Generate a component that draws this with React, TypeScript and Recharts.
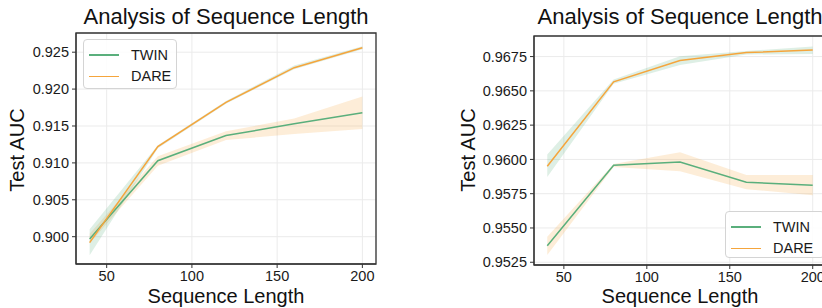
import { ComposedChart, Line, Area, XAxis, YAxis, CartesianGrid, ReferenceArea } from 'recharts'

// Sequence lengths (x)
const seqLens = [40, 80, 120, 160, 200]

// Left panel
const leftTwin = [0.8997, 0.9103, 0.9137, 0.9153, 0.9168]
const leftTwinLo = [0.8991, 0.9096, 0.9131, 0.9139, 0.9146]
const leftTwinHi = [0.9004, 0.9109, 0.9143, 0.9160, 0.9190]
const leftDare = [0.8992, 0.9122, 0.9182, 0.9229, 0.9256]
const leftDareLo = [0.8975, 0.9120, 0.9180, 0.9227, 0.9254]
const leftDareHi = [0.9010, 0.9124, 0.9184, 0.9232, 0.9258]
const leftYTicks = [0.9, 0.905, 0.91, 0.915, 0.92, 0.925]

// Right panel
const rightTwin = [0.95371, 0.95957, 0.95981, 0.95834, 0.95812]
const rightTwinLo = [0.95303, 0.95945, 0.95914, 0.95783, 0.95739]
const rightTwinHi = [0.95436, 0.95966, 0.96052, 0.95887, 0.95887]
const rightDare = [0.9595, 0.96566, 0.96721, 0.96779, 0.96798]
const rightDareLo = [0.95872, 0.96552, 0.96689, 0.96765, 0.96769]
const rightDareHi = [0.96035, 0.96582, 0.96752, 0.96791, 0.96823]
const rightYTicks = [0.9525, 0.955, 0.9575, 0.96, 0.9625, 0.965, 0.9675]

const xTicks = [50, 100, 150, 200]
const seriesNames = ['TWIN', 'DARE']

const TWIN_COLOR = '#5aaf7c'
const DARE_COLOR = '#f5a53c'
const seriesColors = [TWIN_COLOR, DARE_COLOR]
const FONT = '"Liberation Sans", Arial, sans-serif'

const buildRows = (
  twin: number[], twinLo: number[], twinHi: number[],
  dare: number[], dareLo: number[], dareHi: number[]
) =>
  seqLens.map((len, i) => ({
    len,
    twin: twin[i],
    dare: dare[i],
    twinBand: [twinLo[i], twinHi[i]],
    dareBand: [dareLo[i], dareHi[i]],
  }))

const leftRows = buildRows(leftTwin, leftTwinLo, leftTwinHi, leftDare, leftDareLo, leftDareHi)
const rightRows = buildRows(rightTwin, rightTwinLo, rightTwinHi, rightDare, rightDareLo, rightDareHi)

const tickStyle = { fill: '#1a1a1a', fontSize: 14.5, fontFamily: FONT }

const LegendBox = ({ left, top, width, height }: { left: number; top: number; width: number; height: number }) => (
  <div
    style={{
      position: 'absolute',
      left,
      top,
      width,
      height,
      background: 'rgba(255,255,255,0.85)',
      border: '1px solid #d4d4d4',
      borderRadius: 4,
      padding: '4px 0 0 5px',
      fontFamily: FONT,
      fontSize: 14.5,
      color: '#1a1a1a',
      boxSizing: 'border-box',
    }}
  >
    {seriesNames.map((name, i) => (
      <div key={name} style={{ display: 'flex', alignItems: 'center', height: 21.5 }}>
        <span style={{ width: 30, height: 1.5, background: seriesColors[i], marginRight: 12 }} />
        <span>{name}</span>
      </div>
    ))}
  </div>
)

interface PanelProps {
  rows: any[]
  width: number
  margin: { top: number; right: number; left: number; bottom: number }
  yAxisWidth: number
  xAxisHeight: number
  yDomain: [number, number]
  yTicks: number[]
  digits: number
}

function Panel({ rows, width, margin, yAxisWidth, xAxisHeight, yDomain, yTicks, digits }: PanelProps) {
  return (
    <ComposedChart width={width} height={308} data={rows} margin={margin}>
      <CartesianGrid stroke="#ebebeb" strokeWidth={1} />
      <XAxis
        dataKey="len"
        type="number"
        domain={[32, 208]}
        ticks={xTicks}
        allowDataOverflow
        height={xAxisHeight}
        tick={tickStyle}
        tickSize={4}
        tickMargin={3}
        stroke="#333"
      />
      <YAxis
        type="number"
        domain={yDomain}
        ticks={yTicks}
        allowDataOverflow
        width={yAxisWidth}
        tick={tickStyle}
        tickSize={4}
        tickMargin={3}
        stroke="#333"
        tickFormatter={(v: number) => v.toFixed(digits)}
      />
      <Area
        dataKey="twinBand"
        type="linear"
        stroke="none"
        fill={DARE_COLOR}
        fillOpacity={0.2}
        isAnimationActive={false}
        activeDot={false}
      />
      <Area
        dataKey="dareBand"
        type="linear"
        stroke="none"
        fill={TWIN_COLOR}
        fillOpacity={0.2}
        isAnimationActive={false}
        activeDot={false}
      />
      <Line dataKey="twin" name="TWIN" type="linear" stroke={TWIN_COLOR} strokeWidth={1.5} dot={false} isAnimationActive={false} />
      <Line dataKey="dare" name="DARE" type="linear" stroke={DARE_COLOR} strokeWidth={1.5} dot={false} isAnimationActive={false} />
      <ReferenceArea
        x1={32}
        x2={208}
        y1={yDomain[0]}
        y2={yDomain[1]}
        fill="none"
        stroke="#333"
        strokeWidth={1.3}
        ifOverflow="visible"
      />
    </ComposedChart>
  )
}

export default function App() {
  return (
    <div style={{ position: 'absolute', left: 0, top: 0, width: 822, height: 308, overflow: 'hidden', background: '#fff' }}>
      <div style={{ position: 'absolute', left: 0, top: 0 }}>
        <Panel
          rows={leftRows}
          width={411}
          margin={{ top: 33, right: 35, left: 0, bottom: 0 }}
          yAxisWidth={76}
          xAxisHeight={44}
          yDomain={[0.8963, 0.9276]}
          yTicks={leftYTicks}
          digits={3}
        />
      </div>
      <div style={{ position: 'absolute', left: 411, top: 0 }}>
        <Panel
          rows={rightRows}
          width={420}
          margin={{ top: 36, right: 5, left: 0, bottom: 0 }}
          yAxisWidth={123}
          xAxisHeight={43}
          yDomain={[0.9523, 0.969]}
          yTicks={rightYTicks}
          digits={4}
        />
      </div>
      <LegendBox left={83} top={39} width={94} height={50} />
      <LegendBox left={725} top={211} width={100} height={47} />
      <svg width={822} height={308} style={{ position: 'absolute', left: 0, top: 0, pointerEvents: 'none' }}>
        <g fontFamily={FONT} fill="#111">
          <text x={226} y={23.5} fontSize={22} textAnchor="middle">Analysis of Sequence Length</text>
          <text x={680} y={23.5} fontSize={22} textAnchor="middle">Analysis of Sequence Length</text>
          <text x={226} y={303} fontSize={20} textAnchor="middle">Sequence Length</text>
          <text x={680} y={303} fontSize={20} textAnchor="middle">Sequence Length</text>
          <text x={24} y={150} fontSize={20} textAnchor="middle" transform="rotate(-90 24 150)">Test AUC</text>
          <text x={475} y={150} fontSize={20} textAnchor="middle" transform="rotate(-90 475 150)">Test AUC</text>
        </g>
      </svg>
    </div>
  )
}
